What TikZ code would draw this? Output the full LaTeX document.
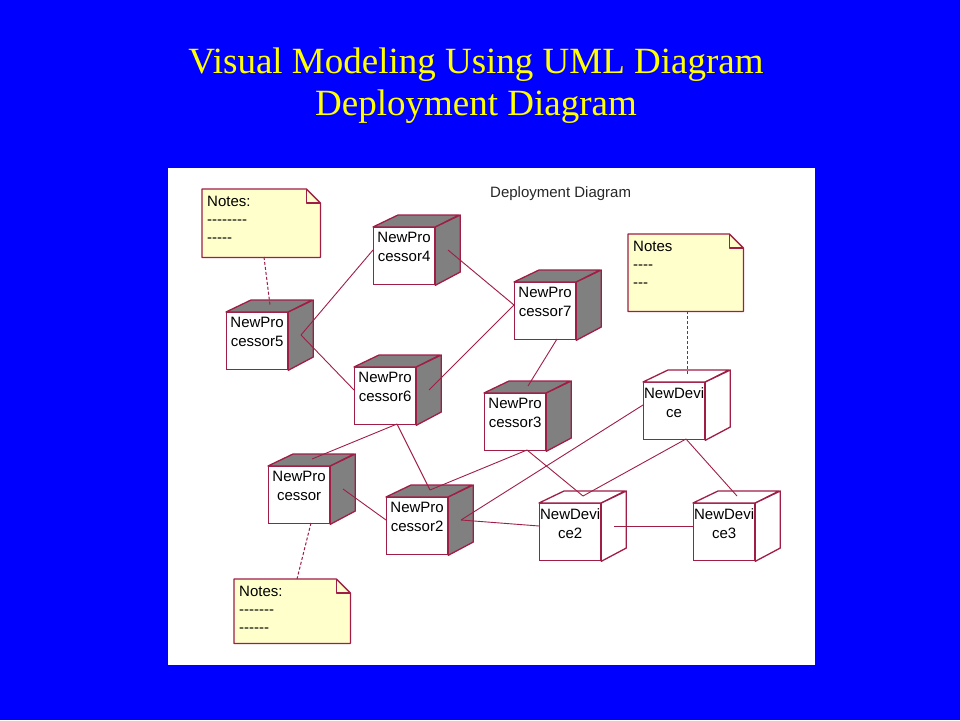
\documentclass[tikz,border=0pt]{standalone}
\usepackage{fontspec}
\setmainfont{Liberation Serif}
\newfontfamily\rosefont{Liberation Sans}
\usetikzlibrary{calc}
\definecolor{bgblue}{RGB}{0,0,255}
\definecolor{rosered}{RGB}{160,30,70}
\definecolor{notefill}{RGB}{255,255,204}
\definecolor{sidegray}{RGB}{128,128,128}
\definecolor{titleyellow}{RGB}{255,255,0}
\tikzset{
  cubefront/.style={draw=rosered, line width=1.3pt, fill=white, minimum width=61pt, minimum height=57pt, inner sep=0pt, anchor=north west},
  cubeface/.style={draw=rosered, line width=1.3pt, line join=round},
  cubelabel/.style={font=\rosefont\fontsize{15}{19}\selectfont, align=center, anchor=north, inner sep=0pt, text=black},
  notearea/.style={draw=none, inner sep=0pt, anchor=north west},
  noteface/.style={fill=notefill, draw=rosered, line width=1.3pt, line join=round},
  notelabel/.style={font=\rosefont\fontsize{15}{18}\selectfont, align=left, anchor=north west, inner sep=0pt, text=black},
  link/.style={draw=rosered, line width=0.9pt},
  notelink/.style={draw=rosered, line width=1pt, dash pattern=on 3pt off 2pt},
  titletext/.style={font=\fontsize{37}{42}\selectfont, text=titleyellow, anchor=base, inner sep=0pt},
}
% name, x, y, text, side fill
\newcommand\depnode[5]{%
  \node[cubefront] (#1) at (#2,#3) {};
  \filldraw[cubeface, fill=#5] (#1.north west) -- ++(25,-12) -- ++(61,0) -- (#1.north east) -- cycle;
  \filldraw[cubeface, fill=#5] (#1.north east) -- ++(25,-12) -- ++(0,57) -- (#1.south east) -- cycle;
  \node[cubelabel] (#1-t) at ($(#1.north)+(0,5)$) {#4};
  \coordinate (#1-l) at ($(#1.north west)+(0,23)$);
  \coordinate (#1-r) at ($(#1.north west)+(75,23)$);
  \coordinate (#1-u) at ($(#1.north west)+(44,-7)$);
  \coordinate (#1-b) at ($(#1.north west)+(43,57)$);
}
% name, x, y, w, h, text
\newcommand\umlnote[6]{%
  \node[notearea, minimum width=#4pt, minimum height=#5pt] (#1) at (#2,#3) {};
  \filldraw[noteface] (#1.north west) -- ($(#1.north east)+(-14,0)$) -- ($(#1.north east)+(0,14)$) -- (#1.south east) -- (#1.south west) -- cycle;
  \draw[noteface, fill=none] ($(#1.north east)+(-14,0)$) -- ++(0,14) -- ++(14,0);
  \node[notelabel] (#1-t) at ($(#1.north west)+(5,7)$) {#6};
}
\newcommand\hy{{-}}
\begin{document}
\begin{tikzpicture}[x=1pt, y=-1pt]
  \useasboundingbox (0,0) rectangle (960,720);
  \fill[bgblue] (0,0) rectangle (960,720);
  \node[titletext] (title1) at (476,73) {Visual Modeling Using UML Diagram};
  \node[titletext] (title2) at (476,115) {Deployment Diagram};
  \fill[white] (168,168) rectangle (815,665);
  \node[font=\rosefont\fontsize{15}{18}\selectfont, anchor=base west, inner sep=0pt, text=black!85] (dtitle) at (490,197) {Deployment Diagram};

  \umlnote{n1}{202}{189}{118}{68}{Notes:\\\hy\hy\hy\hy\hy\hy\hy\hy\\\hy\hy\hy\hy\hy}
  \umlnote{n2}{628}{234}{115}{77}{Notes\\\hy\hy\hy\hy\\\hy\hy\hy}
  \umlnote{n3}{234}{579}{116}{64}{Notes:\\\hy\hy\hy\hy\hy\hy\hy\\\hy\hy\hy\hy\hy\hy}

  \depnode{p5}{226}{312}{NewPro\\cessor5}{sidegray}
  \depnode{p4}{373}{227}{NewPro\\cessor4}{sidegray}
  \depnode{p7}{514}{282}{NewPro\\cessor7}{sidegray}
  \depnode{p6}{354}{367}{NewPro\\cessor6}{sidegray}
  \depnode{p3}{484}{393}{NewPro\\cessor3}{sidegray}
  \depnode{p}{268}{466}{NewPro\\cessor}{sidegray}
  \depnode{p2}{386}{497}{NewPro\\cessor2}{sidegray}
  \depnode{d}{643}{382}{NewDevi\\ce}{white}
  \depnode{d2}{539}{503}{NewDevi\\ce2}{white}
  \depnode{d3}{693}{503}{NewDevi\\ce3}{white}

  \draw[link] (p5-r) -- (p4-l);
  \draw[link] (p4-r) -- (p7-l);
  \draw[link] (p5-r) -- (p6-l);
  \draw[link] (p6-r) -- (p7-l);
  \draw[link] (p7-b) -- (p3-u);
  \draw[link] (p6-b) -- (p-u);
  \draw[link] (p6-b) -- (p2-u);
  \draw[link] (p3-b) -- (p2-u);
  \draw[link] (p3-b) -- (d2-u);
  \draw[link] (p-r) -- (p2-l);
  \draw[link] (p2-r) -- (d2-l);
  \draw[link] (p2-r) -- (d-l);
  \draw[link] (d-b) -- (d2-u);
  \draw[link] (d-b) -- (d3-u);
  \draw[link] (d2-r) -- (d3-l);

  \draw[notelink] ($(n1.north west)+(62,68)$) -- (p5-u);
  \draw[notelink] ($(n2.north west)+(59,77)$) -- (d-u);
  \draw[notelink] (p-b) -- ($(n3.north west)+(63,0)$);
\end{tikzpicture}
\end{document}
